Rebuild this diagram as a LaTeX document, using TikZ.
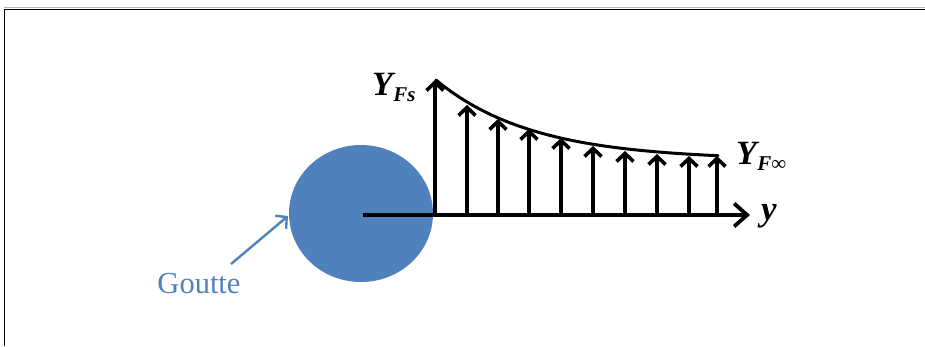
\documentclass[tikz,border=0pt]{standalone}
\usepackage{fontspec}
\setmainfont{Liberation Serif}
\usetikzlibrary{arrows.meta}
\definecolor{dropblue}{HTML}{4F81BD}
\tikzset{
  vecarrow/.style={line width=3.6pt,-{Straight Barb[length=8pt,width=17pt,line width=3.6pt]}},
  axisarrow/.style={line width=3.8pt,-{Straight Barb[length=13pt,width=23pt,line width=3.8pt]}},
  lbl/.style={inner sep=0pt,anchor=base west},
  framel/.style={line width=1.3pt,black}
}
\begin{document}
\begin{tikzpicture}[x=1pt,y=-1pt]
\useasboundingbox (0,0) rectangle (925,346);
% frame
\draw[gray!60,line width=0.8pt] (4,7.8) -- (925,7.8);
\draw[framel] (4.6,346) -- (4.6,9.6) -- (925,9.6);
% droplet
\fill[dropblue] (361,213.5) ellipse [x radius=72, y radius=68.5];
% axis
\coordinate (o) at (363,215);
\coordinate (yend) at (750,215);
\draw[axisarrow] (o) -- (yend);
% curve
\draw[line width=3pt,line cap=round] plot[domain=436:718,samples=80] (\x,{160-80*exp(-(\x-436)/96.6)});
% vertical arrows
\foreach \x/\t [count=\i] in {435/80,467/105,498/119,529/129,561/138,593/146,625/151,657/154,689/156,717/156}{
  \coordinate (b\i) at (\x,215);
  \coordinate (t\i) at (\x,\t);
  \draw[vecarrow] (b\i) -- (t\i);
}
% labels
\node[lbl] (yfs) at (372,95) {\fontsize{34}{34}\selectfont\bfseries\itshape Y\kern0.5pt\raisebox{-6pt}{\fontsize{21}{21}\selectfont Fs}};
\node[lbl] (yfi) at (736,164) {\fontsize{34}{34}\selectfont\bfseries\itshape Y\kern0.5pt\raisebox{-6pt}{\fontsize{21}{21}\selectfont F\normalfont∞}};
\node[lbl] (ylab) at (761,220) {\fontsize{35}{35}\selectfont\bfseries\itshape y};
\node[inner sep=0pt,anchor=base,text=dropblue] (goutte) at (199,293) {\fontsize{30.5}{30}\selectfont Goutte};
\coordinate (gs) at (231,264);
\coordinate (gt) at (288,216);
\draw[dropblue,line width=2.4pt,-{Straight Barb[length=8pt,width=17pt,line width=2.4pt]}] (gs) -- (gt);
\end{tikzpicture}
\end{document}
